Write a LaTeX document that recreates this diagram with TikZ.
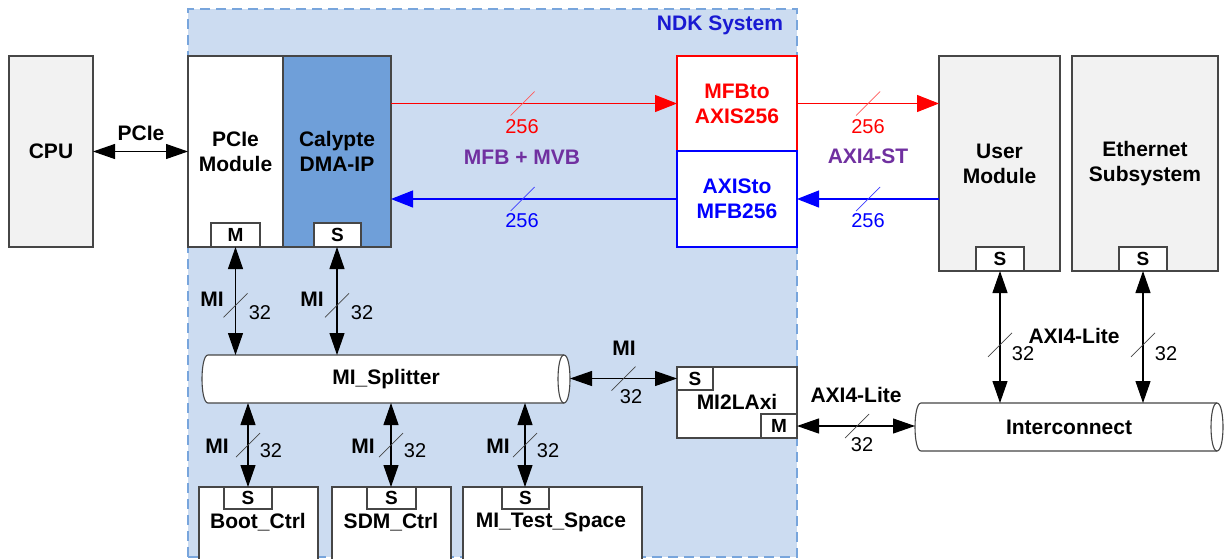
\documentclass[tikz,border=0pt]{standalone}
\usepackage{fontspec}
\setmainfont{Liberation Sans}
\usetikzlibrary{arrows.meta}
\definecolor{ndkbg}{RGB}{204,220,241}
\definecolor{ndkedge}{RGB}{120,165,220}
\definecolor{dmablue}{RGB}{111,159,217}
\definecolor{boxgray}{RGB}{242,242,242}
\definecolor{edgegray}{RGB}{70,70,70}
\definecolor{lblpurple}{RGB}{112,48,160}
\definecolor{ndktext}{RGB}{25,25,210}
\definecolor{slashred}{RGB}{255,90,90}
\definecolor{slashblue}{RGB}{60,60,255}
\tikzset{
  box/.style={draw=edgegray, line width=1.3pt, inner sep=0pt, outer sep=0pt, align=center, font=\fontsize{21}{25}\selectfont\bfseries},
  port/.style={draw=edgegray, line width=1.1pt, fill=white, inner sep=0pt, outer sep=0pt, minimum width=48pt, minimum height=24pt, font=\fontsize{19}{20}\selectfont\bfseries},
  lbl/.style={inner sep=0pt, outer sep=0pt, font=\fontsize{21}{25}\selectfont\bfseries, align=center},
  num/.style={inner sep=0pt, outer sep=0pt, font=\fontsize{20}{24}\selectfont},
  bi/.style={{Triangle[length=22pt,width=15pt]}-{Triangle[length=22pt,width=15pt]}, line width=1.1pt, draw=black},
  uni/.style={-{Triangle[length=22pt,width=17pt]}, line width=1.1pt},
  slashk/.style={line width=0.7pt, draw=edgegray},
  slashr/.style={line width=0.7pt, draw=slashred},
  slashb/.style={line width=0.7pt, draw=slashblue},
  cyl/.style={draw=edgegray, line width=1.1pt, fill=white},
  inv/.style={inner sep=0pt, outer sep=0pt, font=\fontsize{21}{25}\selectfont\bfseries}
}
\begin{document}
\begin{tikzpicture}[x=1pt,y=-1pt]
\useasboundingbox (0,0) rectangle (1226,558);
\fill[white] (0,0) rectangle (1226,558);

% NDK system background
\node[draw=ndkedge, fill=ndkbg, dashed, dash pattern=on 10pt off 6pt, line width=1.3pt, minimum width=609pt, minimum height=548pt, inner sep=0pt, outer sep=0pt] (ndk) at (492.5,283) {};
\node[lbl, text=ndktext, anchor=east] (ndkl) at (783,25) {NDK System};

% top row
\node[box, fill=boxgray, minimum width=84pt, minimum height=191pt] (cpu) at (51,151.5) {CPU};
\node[box, fill=white, minimum width=95pt, minimum height=191pt] (pcie) at (235.5,151.5) {PCIe\\Module};
\node[box, fill=dmablue, minimum width=108pt, minimum height=191pt] (dma) at (337,151.5) {Calypte\\DMA-IP};
\node[port, minimum width=49pt] (pm) at (235.5,235) {M};
\node[port, minimum width=47pt] (ds) at (337.5,235) {S};

\node[box, draw=red, fill=white, text=red, minimum width=120pt, minimum height=95pt] (mfb) at (737,103.5) {MFBto\\AXIS256};
\node[box, draw=blue, fill=white, text=blue, minimum width=120pt, minimum height=96pt] (axs) at (737,199) {AXISto\\MFB256};

\node[box, fill=boxgray, minimum width=121pt, minimum height=215pt] (usr) at (999.5,163.5) {User\\Module};
\node[box, fill=boxgray, minimum width=146pt, minimum height=215pt] (eth) at (1145,163.5) {Ethernet\\Subsystem};
\node[port] (us) at (1000,259) {S};
\node[port] (es) at (1143,259) {S};

% splitter cylinder
\draw[cyl] (208,355) -- (564,355) .. controls (572,355) and (572,403) .. (564,403) -- (208,403) .. controls (200,403) and (200,355) .. (208,355) -- cycle;
\draw[draw=edgegray, line width=1.1pt] (564,355) .. controls (556,355) and (556,403) .. (564,403);
\node[inv, minimum width=368pt, minimum height=48pt] (spl) at (386,379) {MI\_Splitter};

% interconnect cylinder
\draw[cyl] (921,403) -- (1217,403) .. controls (1225,403) and (1225,451) .. (1217,451) -- (921,451) .. controls (913,451) and (913,403) .. (921,403) -- cycle;
\draw[draw=edgegray, line width=1.1pt] (1217,403) .. controls (1209,403) and (1209,451) .. (1217,451);
\node[inv, minimum width=308pt, minimum height=48pt] (ic) at (1069,427) {Interconnect};

% MI2LAxi
\node[box, fill=white, minimum width=120pt, minimum height=71pt] (m2l) at (737,402.5) {};
\node[inv] (m2lt) at (737,402) {MI2LAxi};
\node[port, minimum width=36pt, minimum height=23pt] (m2s) at (695,378.5) {S};
\node[port, minimum width=36pt, minimum height=24pt] (m2m) at (779,426) {M};

% bottom boxes
\node[box, fill=white, minimum width=119pt, minimum height=78pt] (boot) at (258.5,526) {};
\node[box, fill=white, minimum width=119pt, minimum height=78pt] (sdm) at (391.5,526) {};
\node[box, fill=white, minimum width=179pt, minimum height=78pt] (tst) at (552.5,526) {};
\node[port, minimum height=22pt] (bs) at (248,498) {S};
\node[port, minimum width=49pt, minimum height=22pt] (ss) at (391.5,498) {S};
\node[port, minimum width=47pt, minimum height=22pt] (ts) at (525.5,498) {S};
\node[inv] (bootl) at (258,522) {Boot\_Ctrl};
\node[inv] (sdml) at (391,522) {SDM\_Ctrl};
\node[inv] (tstl) at (551,522) {MI\_Test\_Space};

% connectors
\draw[bi] (cpu.east |- pcie.west) -- (pcie.west);
\node[lbl] (pciel) at (141,133) {PCIe};

\draw[uni, red] (mfb.west -| dma.east) -- coordinate[pos=0.46] (r1) (mfb.west);
\draw[uni, blue] (axs.west) -- coordinate[pos=0.54] (b1) (axs.west -| dma.east);
\draw[uni, red] (mfb.east) -- coordinate[pos=0.5] (r2) (mfb.east -| usr.west);
\draw[uni, blue] (usr.west |- axs.east) -- coordinate[pos=0.5] (b2) (axs.east);
\draw[slashr] (r1) ++(-12,12) -- ++(24,-24);
\draw[slashb] (b1) ++(-12,12) -- ++(24,-24);
\draw[slashr] (r2) ++(-12,12) -- ++(24,-24);
\draw[slashb] (b2) ++(-12,12) -- ++(24,-24);
\node[num, text=red] (n1) at (522,127) {256};
\node[num, text=blue] (n2) at (522,221) {256};
\node[num, text=red] (n3) at (868,127) {256};
\node[num, text=blue] (n4) at (868,221) {256};
\node[lbl, text=lblpurple] (mfbmvb) at (522,157) {MFB + MVB};
\node[lbl, text=lblpurple] (axist) at (868,156) {AXI4-ST};

% MI vertical top
\draw[bi] (pm.south) -- coordinate[pos=0.54] (k1) (pm.south |- spl.north);
\draw[bi] (ds.south -| 337,0) -- coordinate[pos=0.54] (k2) (337,355);
\draw[slashk] (k1) ++(-12,12) -- ++(24,-24);
\draw[slashk] (k2) ++(-12,12) -- ++(24,-24);
\node[lbl] (mi1) at (212,299) {MI};
\node[lbl] (mi2) at (312,299) {MI};
\node[num] (t1) at (260,313) {32};
\node[num] (t2) at (362,313) {32};

% MI vertical bottom
\draw[bi] (bs.north |- spl.south) -- coordinate[pos=0.5] (k3) (bs.north);
\draw[bi] (spl.south -| 391,0) -- coordinate[pos=0.5] (k4) (391,487);
\draw[bi] (spl.south -| 525,0) -- coordinate[pos=0.5] (k5) (525,487);
\draw[slashk] (k3) ++(-12,12) -- ++(24,-24);
\draw[slashk] (k4) ++(-12,12) -- ++(24,-24);
\draw[slashk] (k5) ++(-12,12) -- ++(24,-24);
\node[lbl] (mi3) at (217,446) {MI};
\node[lbl] (mi4) at (363,446) {MI};
\node[lbl] (mi5) at (498,446) {MI};
\node[num] (t3) at (271,451) {32};
\node[num] (t4) at (415,451) {32};
\node[num] (t5) at (548,451) {32};

% splitter to MI2LAxi
\draw[bi] (spl.east |- m2s.west) -- coordinate[pos=0.5] (k6) (m2s.west);
\draw[slashk] (k6) ++(-12,12) -- ++(24,-24);
\node[lbl] (mi6) at (624,348) {MI};
\node[num] (t6) at (631,397) {32};

% MI2LAxi to interconnect
\draw[bi] (m2m.east) -- coordinate[pos=0.51] (k7) (ic.west |- m2m.east);
\draw[slashk] (k7) ++(-12,12) -- ++(24,-24);
\node[lbl] (axl1) at (856,395) {AXI4-Lite};
\node[num] (t7) at (862,445) {32};

% user / ethernet to interconnect
\draw[bi] (us.south) -- coordinate[pos=0.56] (k8) (us.south |- ic.north);
\draw[bi] (es.south) -- coordinate[pos=0.56] (k9) (es.south |- ic.north);
\draw[slashk] (k8) ++(-12,12) -- ++(24,-24);
\draw[slashk] (k9) ++(-12,12) -- ++(24,-24);
\node[lbl] (axl2) at (1074,336) {AXI4-Lite};
\node[num] (t8) at (1023,354) {32};
\node[num] (t9) at (1166,354) {32};
\end{tikzpicture}
\end{document}
